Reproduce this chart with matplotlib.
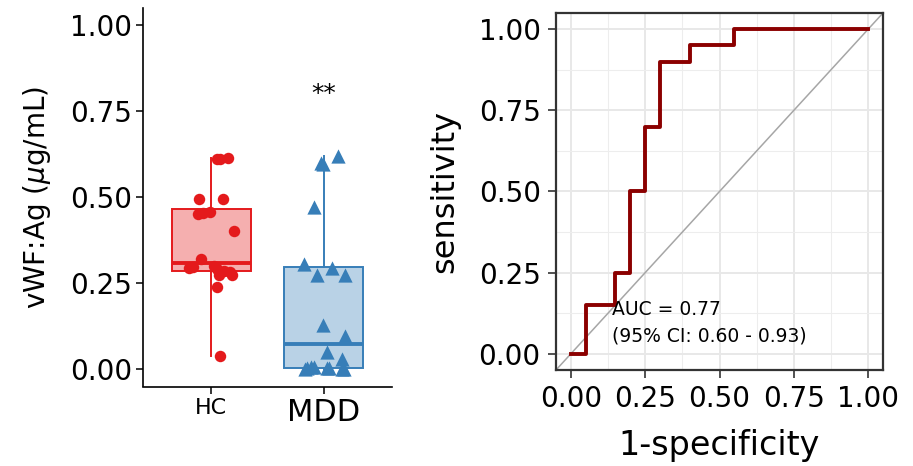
#!/usr/bin/env python3

import numpy as np
import matplotlib
matplotlib.use("Agg")
import matplotlib.pyplot as plt
from matplotlib.ticker import MultipleLocator

groups = ["HC", "MDD"]
hc_vals = [0.610, 0.612, 0.614, 0.496, 0.496, 0.450, 0.453, 0.456, 0.401, 0.320,
           0.293, 0.297, 0.300, 0.291, 0.285, 0.283, 0.273, 0.273, 0.239, 0.039]
hc_jitter = [0.053, 0.077, 0.151, -0.110, 0.103, -0.116, -0.075, -0.012, 0.201, -0.086,
             -0.193, -0.164, 0.023, 0.053, 0.112, 0.172, 0.187, 0.068, 0.053, 0.083]
mdd_vals = [0.598, 0.596, 0.619, 0.472, 0.307, 0.273, 0.293, 0.273, 0.128, 0.097,
            0.050, 0.031, 0.002, 0.007, 0.004, 0.000, 0.003, 0.005, 0.001, 0.006]
mdd_jitter = [-0.027, -0.012, 0.122, -0.086, -0.181, -0.062, 0.071, 0.187, -0.012, 0.187,
              0.024, 0.160, -0.169, -0.092, 0.024, 0.160, -0.151, 0.045, 0.178, -0.116]
signif = "**"

# right panel: ROC curve (step points, 1-specificity vs sensitivity)
roc_fpr = [0.00, 0.05, 0.15, 0.20, 0.25, 0.30, 0.40, 0.55, 1.00]
roc_tpr = [0.00, 0.15, 0.25, 0.50, 0.70, 0.90, 0.95, 1.00, 1.00]
auc = 0.77
auc_ci = (0.60, 0.93)

ticks = [0.00, 0.25, 0.50, 0.75, 1.00]
tick_labels = ["0.00", "0.25", "0.50", "0.75", "1.00"]

red = "#E41A1C"
blue = "#377EB8"

plt.rcParams["font.family"] = ["DejaVu Sans"]
plt.rcParams["mathtext.fontset"] = "dejavusans"

fig = plt.figure(figsize=(9.13, 4.66), dpi=100)

# ---------------- box plot ----------------
ax1 = fig.add_axes([143.3/913, (466-386.5)/466, 248.4/913, 378.7/466])
bp = ax1.boxplot([hc_vals, mdd_vals], positions=[1, 2], widths=0.7, whis=1.5,
                 patch_artist=True, showfliers=False, showcaps=False)
for i, col in enumerate([red, blue]):
    bp["boxes"][i].set(facecolor=matplotlib.colors.to_rgba(col, 0.35), edgecolor=col, linewidth=1.4)
    bp["medians"][i].set(color=col, linewidth=2.8)
    for w in bp["whiskers"][2*i:2*i+2]:
        w.set(color=col, linewidth=1.4)

ax1.scatter([1 + j for j in hc_jitter], hc_vals, s=68, color=red, marker="o",
            linewidths=0, zorder=5)
ax1.scatter([2 + j for j in mdd_jitter], mdd_vals, s=105, color=blue, marker="^",
            linewidths=0, zorder=5)
ax1.text(2, 0.80, signif, ha="center", va="center", fontsize=18)

ax1.set_xlim(0.4, 2.6)
ax1.set_ylim(-0.05, 1.05)
ax1.set_yticks(ticks)
ax1.set_yticklabels(tick_labels)
ax1.set_xticks([1, 2])
ax1.set_xticklabels(groups)
ax1.get_xticklabels()[0].set_fontsize(16)
ax1.get_xticklabels()[1].set_fontsize(22)
ax1.tick_params(axis="y", labelsize=20, length=5, width=1.1, pad=3)
ax1.tick_params(axis="x", length=5, width=1.1, pad=3)
for s in ["top", "right"]:
    ax1.spines[s].set_visible(False)
for s in ["left", "bottom"]:
    ax1.spines[s].set_linewidth(1.2)
ax1.set_ylabel(r"vWF:Ag ($\mu$g/mL)", fontsize=20)
ax1.yaxis.set_label_coords(-0.362, 0.5)

# ---------------- ROC ----------------
ax2 = fig.add_axes([556/913, (466-370)/466, 327/913, 357/466])
ax2.set_xlim(-0.05, 1.05)
ax2.set_ylim(-0.05, 1.05)
ax2.xaxis.set_minor_locator(MultipleLocator(0.125))
ax2.yaxis.set_minor_locator(MultipleLocator(0.125))
ax2.set_xticks(ticks)
ax2.set_xticklabels(tick_labels)
ax2.set_yticks(ticks)
ax2.set_yticklabels(tick_labels)
ax2.grid(True, which="major", color="#E8E8E8", linewidth=1.4)
ax2.grid(True, which="minor", color="#EDEDED", linewidth=0.8)
ax2.set_axisbelow(True)
ax2.tick_params(which="minor", length=0)
ax2.tick_params(which="major", labelsize=20, length=6, width=1.2, color="#333333", pad=5)

ax2.axline((0, 0), (1, 1), color="#A6A6A6", linewidth=1.1, zorder=2)
ax2.plot(roc_fpr, roc_tpr, drawstyle="steps-post", color="#8B0000", linewidth=2.8, zorder=3)

ax2.text(0.137, 0.119, "AUC = %.2f" % auc, fontsize=13.5, ha="left", va="baseline")
ax2.text(0.137, 0.037, "(95%% CI: %.2f - %.2f)" % auc_ci, fontsize=13.5, ha="left", va="baseline")

for s in ax2.spines.values():
    s.set_linewidth(1.6)
    s.set_color("#333333")
ax2.set_xlabel("1-specificity", fontsize=24)
ax2.set_ylabel("sensitivity", fontsize=23)
ax2.xaxis.set_label_coords(0.5, -0.165)
ax2.yaxis.set_label_coords(-0.294, 0.5)

fig.savefig("out.png", dpi=100)
